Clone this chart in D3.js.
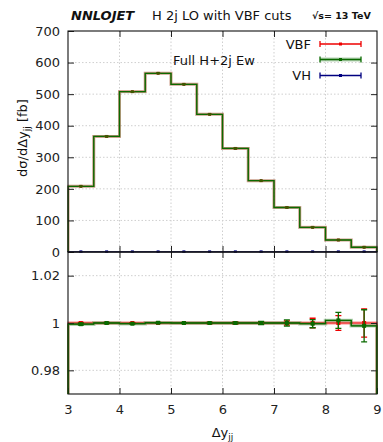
<!DOCTYPE html>
<html>
<head>
<meta charset="utf-8">
<script src="https://cdn.jsdelivr.net/npm/d3@7"></script>
<style>
  html, body { margin: 0; padding: 0; background: #fff; }
  svg { display: block; font-family: "DejaVu Sans", sans-serif; }
</style>
</head>
<body>
<svg id="chart" width="383" height="442"></svg>
<script>
// Δy_jj bins
const binEdges = [3, 3.5, 4, 4.5, 5, 5.5, 6, 6.5, 7, 7.5, 8, 8.5, 9];
// VBF cross section per bin [fb] and its relative MC uncertainty
const vbfXsec   = [208, 366, 508, 566, 531, 436, 328, 226, 141, 78, 38, 15];
const vbfRelErr = [0.0003, 0.0002, 0.0002, 0.0002, 0.0002, 0.0003, 0.0004, 0.0006, 0.0009, 0.0020, 0.0031, 0.0060];
// Full H+2j EW: ratio to VBF and relative uncertainty
const fullRatio  = [0.9995, 1.0000, 0.9997, 1.0001, 1.0000, 1.0000, 1.0000, 1.0000, 1.0000, 0.9997, 1.0011, 0.9988];
const fullRelErr = [0.0004, 0.0003, 0.0002, 0.0002, 0.0002, 0.0003, 0.0004, 0.0007, 0.0013, 0.0017, 0.0034, 0.0068];
// VH contribution per bin [fb]
const vhXsec = [0.4, 0.4, 0.4, 0.4, 0.4, 0.4, 0.4, 0.4, 0.4, 0.4, 0.4, 0.4];

// axis ticks
const xTicks = [3, 4, 5, 6, 7, 8, 9];
const yTopTicks = [0, 100, 200, 300, 400, 500, 600, 700];
const yRatioTicks = [0.98, 1, 1.02];

const colVBF = "#ee0000", colFull = "#0a6a00", colVH = "#000080";

const svg = d3.select("#chart");
const L = 68, R = 377, T = 31, M = 252, B = 394;

const x = d3.scaleLinear().domain([3, 9]).range([L, R]);
const yTop = d3.scaleLinear().domain([0, 700]).range([M, T]);
const yRat = d3.scaleLinear().domain([0.97, 1.03]).range([B, M]);

const bins = vbfXsec.map((v, i) => ({
  lo: binEdges[i], hi: binEdges[i + 1], mid: (binEdges[i] + binEdges[i + 1]) / 2,
  vbf: v, vbfErr: vbfRelErr[i],
  full: v * fullRatio[i], ratio: fullRatio[i], fullErr: fullRelErr[i],
  vh: vhXsec[i]
}));

// clip regions for the two panels
const defs = svg.append("defs");
defs.append("clipPath").attr("id", "clipTop").append("rect")
  .attr("x", L - 0.6).attr("y", T - 0.6).attr("width", R - L + 1.2).attr("height", M - T + 1.2);
defs.append("clipPath").attr("id", "clipRat").append("rect")
  .attr("x", L - 0.6).attr("y", M - 0.6).attr("width", R - L + 1.2).attr("height", B - M + 1.2);

// ---------- grids ----------
function grid(g, yScale, yVals, top, bottom) {
  g.selectAll(".gx").data(xTicks.slice(1, -1)).join("line")
    .attr("x1", d => x(d)).attr("x2", d => x(d)).attr("y1", top).attr("y2", bottom)
    .attr("stroke", "#cfcfcf").attr("stroke-width", 1).attr("stroke-dasharray", "1.5,2");
  g.selectAll(".gy").data(yVals).join("line")
    .attr("x1", L).attr("x2", R).attr("y1", d => yScale(d)).attr("y2", d => yScale(d))
    .attr("stroke", "#cfcfcf").attr("stroke-width", 1).attr("stroke-dasharray", "1.5,2");
}
grid(svg.append("g"), yTop, yTopTicks.slice(1, -1), T, M);
grid(svg.append("g"), yRat, [0.98, 1.02], M, B);

// ---------- step helpers ----------
function stepPoints(vals, base) {
  const pts = [[binEdges[0], base]];
  vals.forEach((v, i) => { pts.push([binEdges[i], v]); pts.push([binEdges[i + 1], v]); });
  pts.push([binEdges[binEdges.length - 1], base]);
  return pts;
}
function drawStep(g, yScale, vals, base, color, width, opacity) {
  g.append("path")
    .datum(stepPoints(vals, base))
    .attr("d", d3.line().x(d => x(d[0])).y(d => yScale(d[1])))
    .attr("fill", "none").attr("stroke", color)
    .attr("stroke-width", width).attr("stroke-opacity", opacity);
}
function drawErrors(g, yScale, data, color, capW, sq) {
  const e = g.append("g").attr("stroke", color).attr("fill", color);
  data.forEach(d => {
    e.append("line").attr("x1", x(d.x)).attr("x2", x(d.x))
      .attr("y1", yScale(d.v - d.err)).attr("y2", yScale(d.v + d.err)).attr("stroke-width", 1.3);
    [d.v - d.err, d.v + d.err].forEach(c => e.append("line")
      .attr("x1", x(d.x) - capW / 2).attr("x2", x(d.x) + capW / 2)
      .attr("y1", yScale(c)).attr("y2", yScale(c)).attr("stroke-width", 1.3));
    e.append("rect").attr("x", x(d.x) - sq / 2).attr("y", yScale(d.v) - sq / 2)
      .attr("width", sq).attr("height", sq).attr("stroke", "none");
  });
}

// ---------- top panel ----------
const gTop = svg.append("g").attr("clip-path", "url(#clipTop)");
drawStep(gTop, yTop, bins.map(d => d.vbf), 0, colVBF, 3, 0.3);
drawStep(gTop, yTop, bins.map(d => d.vbf), 0, "#8a5a20", 1.2, 0.7);
drawStep(gTop, yTop, bins.map(d => d.full), 0, colFull, 3, 0.2);
drawStep(gTop, yTop, bins.map(d => d.full), 0, colFull, 1.3, 1);
drawErrors(gTop, yTop, bins.map(d => ({ x: d.mid, v: d.vbf, err: d.vbf * d.vbfErr })), "#8a4a20", 4, 3);
drawErrors(gTop, yTop, bins.map(d => ({ x: d.mid, v: d.full, err: d.full * d.fullErr })), "#3a5a00", 4, 2.5);
drawStep(gTop, yTop, bins.map(d => d.vh), 0, colVH, 1.3, 1);
drawErrors(gTop, yTop, bins.map(d => ({ x: d.mid, v: d.vh, err: 0.05 })), colVH, 3, 3);

// ---------- ratio panel ----------
const gRat = svg.append("g").attr("clip-path", "url(#clipRat)");
drawStep(gRat, yRat, bins.map(() => 1), 0.97, colVBF, 3.5, 0.3);
drawStep(gRat, yRat, bins.map(() => 1), 0.97, colVBF, 1.1, 1);
drawStep(gRat, yRat, bins.map(d => d.ratio), 0.97, colFull, 3.5, 0.3);
drawStep(gRat, yRat, bins.map(d => d.ratio), 0.97, colFull, 1.3, 1);
drawErrors(gRat, yRat, bins.map(d => ({ x: d.mid, v: 1, err: d.vbfErr })), colVBF, 6, 4);
drawErrors(gRat, yRat, bins.map(d => ({ x: d.mid, v: d.ratio, err: d.fullErr })), colFull, 6, 4);

// ---------- axes ----------
function styleAxis(g) {
  g.select(".domain").remove();
  g.selectAll(".tick line").attr("stroke", "#222").attr("stroke-width", 1);
  g.selectAll(".tick text").attr("fill", "#222").attr("font-size", 13)
    .attr("font-family", "DejaVu Sans, sans-serif");
}
const inner = xTicks.slice(1, -1);
// top panel
svg.append("g").attr("transform", `translate(0,${T})`)
  .call(d3.axisTop(x).tickValues(inner).tickSize(-6).tickFormat("")).call(styleAxis);
svg.append("g").attr("transform", `translate(0,${M})`)
  .call(d3.axisBottom(x).tickValues(inner).tickSize(-6).tickFormat("")).call(styleAxis);
svg.append("g").attr("transform", `translate(${L},0)`)
  .call(d3.axisLeft(yTop).tickValues(yTopTicks).tickSize(-6).tickPadding(8).tickFormat(d3.format("d")))
  .call(styleAxis);
svg.append("g").attr("transform", `translate(${R},0)`)
  .call(d3.axisRight(yTop).tickValues(yTopTicks.slice(1, -1)).tickSize(-6).tickFormat("")).call(styleAxis);
// ratio panel
svg.append("g").attr("transform", `translate(0,${M})`)
  .call(d3.axisTop(x).tickValues(inner).tickSize(-6).tickFormat("")).call(styleAxis);
svg.append("g").attr("transform", `translate(0,${B})`)
  .call(d3.axisBottom(x).tickValues(xTicks).tickSize(-6).tickPadding(11).tickFormat(d3.format("d")))
  .call(styleAxis);
svg.append("g").attr("transform", `translate(${L},0)`)
  .call(d3.axisLeft(yRat).tickValues(yRatioTicks).tickSize(-6).tickPadding(8).tickFormat(d => d === 1 ? "1" : d3.format(".2f")(d)))
  .call(styleAxis);
svg.append("g").attr("transform", `translate(${R},0)`)
  .call(d3.axisRight(yRat).tickValues(yRatioTicks).tickSize(-6).tickFormat("")).call(styleAxis);

// panel frames
[[T, M], [M, B]].forEach(([t, b]) => svg.append("rect")
  .attr("x", L).attr("y", t).attr("width", R - L).attr("height", b - t)
  .attr("fill", "none").attr("stroke", "#111").attr("stroke-width", 1.1));
// curve edges lying on the frame stay visible
drawStep(svg.append("g").attr("clip-path", "url(#clipRat)"), yRat, bins.map(d => d.ratio), 0.97, colFull, 1, 0.8);

// ---------- labels ----------
const title = svg.append("text").attr("y", 20).attr("font-size", 13).attr("fill", "#111");
title.append("tspan").attr("x", 71).attr("font-weight", "bold").attr("font-style", "italic").text("NNLOJET");
title.append("tspan").attr("x", 152).text("H 2j LO with VBF cuts");
svg.append("text").attr("x", 312).attr("y", 19).attr("font-size", 9.5).attr("font-weight", "bold")
  .attr("fill", "#111").text("√s= 13 TeV");

svg.append("text").attr("x", 173).attr("y", 65).attr("font-size", 13).attr("fill", "#111").text("Full H+2j Ew");

// y axis titles
const yl = svg.append("text").attr("transform", "translate(26.5,138) rotate(-90)")
  .attr("text-anchor", "middle").attr("font-size", 13).attr("fill", "#111");
yl.append("tspan").text("dσ/dΔy");
yl.append("tspan").attr("font-size", 9).attr("dy", 3).text("jj");
yl.append("tspan").attr("dy", -3).text(" [fb]");

defs.append("clipPath").attr("id", "rlclip").append("rect")
  .attr("x", 10).attr("y", 260).attr("width", 30).attr("height", 130);
svg.append("text").attr("clip-path", "url(#rlclip)")
  .attr("transform", "translate(18,322.5) rotate(-90)")
  .attr("text-anchor", "middle").attr("font-size", 13).attr("fill", "#111").text("Ratio to VBF");

// x axis title
const xl = svg.append("text").attr("x", 222.5).attr("y", 437).attr("text-anchor", "middle")
  .attr("font-size", 13).attr("fill", "#111");
xl.append("tspan").text("Δy");
xl.append("tspan").attr("font-size", 9).attr("dy", 3).text("jj");

// ---------- legend ----------
const legend = [
  { label: "VBF", color: colVBF, band: false, y: 44 },
  { label: "", color: colFull, band: true, y: 59.5 },
  { label: "VH", color: colVH, band: false, y: 75.5 }
];
const lx0 = 320, lx1 = 361;
legend.forEach(d => {
  const g = svg.append("g");
  if (d.label) g.append("text").attr("x", 311).attr("y", d.y + 4.5).attr("text-anchor", "end")
    .attr("font-size", 13).attr("fill", "#111").text(d.label);
  if (d.band) g.append("line").attr("x1", lx0).attr("x2", lx1).attr("y1", d.y).attr("y2", d.y)
    .attr("stroke", d.color).attr("stroke-width", 4).attr("stroke-opacity", 0.3);
  g.append("line").attr("x1", lx0).attr("x2", lx1).attr("y1", d.y).attr("y2", d.y)
    .attr("stroke", d.color).attr("stroke-width", 1.3);
  [lx0, lx1].forEach(cx => g.append("line").attr("x1", cx).attr("x2", cx)
    .attr("y1", d.y - 3).attr("y2", d.y + 3).attr("stroke", d.color).attr("stroke-width", 1.3));
  g.append("rect").attr("x", (lx0 + lx1) / 2 - 1.5).attr("y", d.y - 1.5)
    .attr("width", 3).attr("height", 3).attr("fill", d.color);
});
</script>
</body>
</html>
